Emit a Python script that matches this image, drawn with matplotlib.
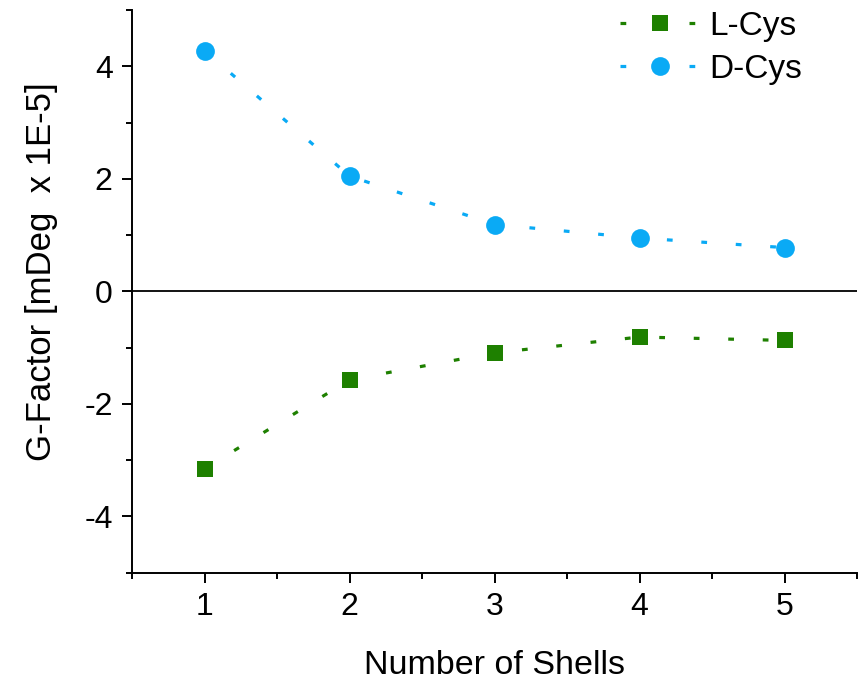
import matplotlib
matplotlib.use("Agg")
import matplotlib.pyplot as plt
from matplotlib.ticker import MultipleLocator

plt.rcParams['font.family'] = ['Liberation Sans', 'DejaVu Sans']
plt.rcParams['axes.unicode_minus'] = False

shells = [1, 2, 3, 4, 5]
l_cys = [-3.15, -1.57, -1.09, -0.81, -0.87]
d_cys = [4.28, 2.05, 1.19, 0.95, 0.78]

green = '#1E8000'
blue = '#0AAAF5'

fig = plt.figure(figsize=(8.64, 6.81), dpi=100)
ax = fig.add_axes([0.153, 0.159, 0.839, 0.826])

ax.plot(shells, l_cys, color=green, lw=2.3, dashes=(1.8, 9), marker='s',
        markersize=11.5, markeredgewidth=0, label='L-Cys')
ax.plot(shells, d_cys, color=blue, lw=2.3, dashes=(1.8, 9), marker='o',
        markersize=13.5, markeredgewidth=0, label='D-Cys')
ax.axhline(0, color='black', lw=1.3, zorder=0)

ax.set_xlim(0.5, 5.5)
ax.set_ylim(-5, 5)
ax.xaxis.set_major_locator(MultipleLocator(1))
ax.xaxis.set_minor_locator(MultipleLocator(0.5))
ax.yaxis.set_major_locator(MultipleLocator(2))
ax.yaxis.set_minor_locator(MultipleLocator(1))

for s in ['top', 'right']:
    ax.spines[s].set_visible(False)
for s in ['left', 'bottom']:
    ax.spines[s].set_linewidth(1.4)

ax.tick_params(which='major', direction='out', length=7, width=1.4, labelsize=23, pad=7)
ax.tick_params(which='minor', direction='out', length=4, width=1.4)

ax.set_xlabel('Number of Shells', fontsize=24.5, labelpad=20)
ax.set_ylabel('G-Factor [mDeg  x 1E-5]', fontsize=25)
ax.yaxis.set_label_coords(-0.102, 0.535)

ax.legend(loc='upper left', bbox_to_anchor=(0.694, 1.013), bbox_transform=fig.transFigure,
          frameon=False, fontsize=24, handlelength=2.4, numpoints=1,
          labelspacing=0.35, handletextpad=0.3, borderpad=0.1)

fig.savefig('out.png', dpi=100)
